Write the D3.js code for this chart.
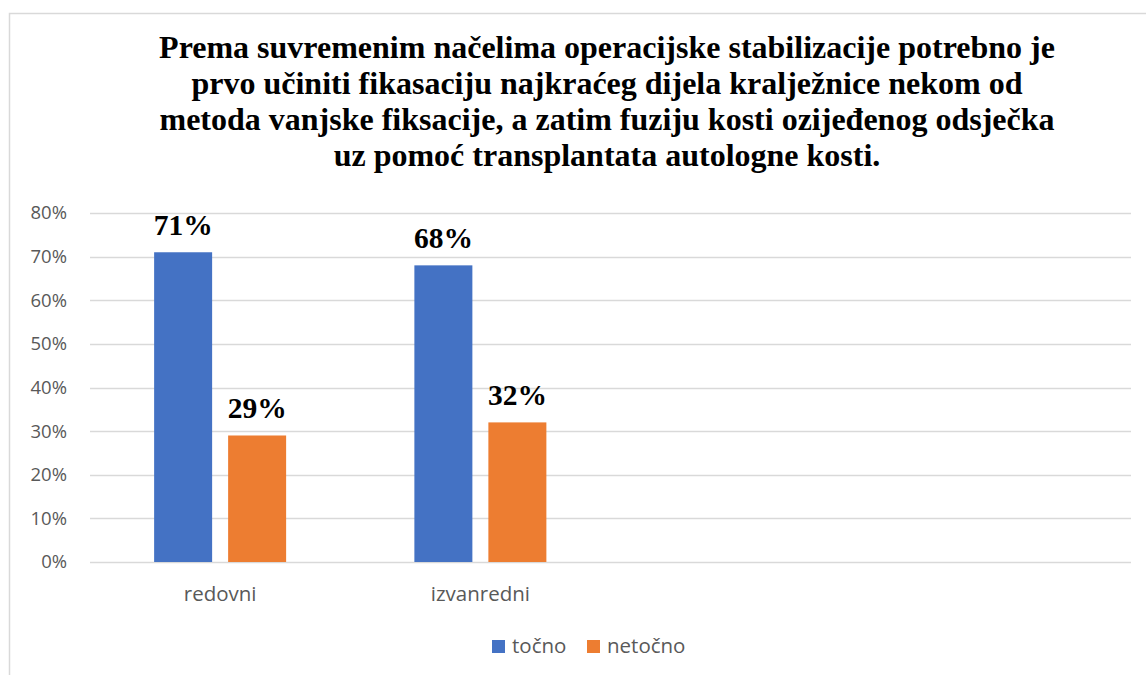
<!DOCTYPE html>
<html><head><meta charset="utf-8">
<script src="https://cdn.jsdelivr.net/npm/d3@7"></script>
<style>body{margin:0;background:#fff}</style>
</head><body>
<svg id="c" width="1146" height="675"></svg>
<script>
const titleLines = [
  "Prema suvremenim načelima operacijske stabilizacije potrebno je",
  "prvo učiniti fikasaciju najkraćeg dijela kralježnice nekom od",
  "metoda vanjske fiksacije, a zatim fuziju kosti ozijeđenog odsječka",
  "uz pomoć transplantata autologne kosti."
];
const categories = ["redovni", "izvanredni", "", ""];
const seriesNames = ["točno", "netočno"];
const tocno = [0.71, 0.68, null, null];
const netocno = [0.29, 0.32, null, null];
const yTicks = [0, 0.1, 0.2, 0.3, 0.4, 0.5, 0.6, 0.7, 0.8];
const colors = ["#4472C4", "#ED7D31"];

const svg = d3.select("#c");
const plotLeft = 90, plotRight = 1131, plotTop = 213, plotBottom = 562;

// frame
svg.append("rect").attr("x", 9.5).attr("y", 13.5).attr("width", 1160).attr("height", 700)
  .attr("fill", "none").attr("stroke", "#D9D9D9").attr("stroke-width", 1.5);

// title
const t = svg.append("text").attr("text-anchor", "middle")
  .attr("font-family", "Liberation Serif").attr("font-weight", "bold")
  .attr("font-size", 32).attr("fill", "#000");
titleLines.forEach((l, i) => t.append("tspan").attr("x", 607).attr("y", 58 + i * 36).text(l));

const x = d3.scaleBand().domain(d3.range(categories.length)).range([plotLeft, plotRight]);
const y = d3.scaleLinear().domain([0, 0.8]).range([plotBottom, plotTop]);
const barW = 58, gap = 16;

// grid
svg.append("g").selectAll("line").data(yTicks).join("line")
  .attr("x1", plotLeft).attr("x2", plotRight)
  .attr("y1", d => Math.round(y(d)) + 0.5).attr("y2", d => Math.round(y(d)) + 0.5)
  .attr("stroke", "#D9D9D9").attr("stroke-width", 1.5);

// y axis
const yAxis = d3.axisLeft(y).tickValues(yTicks).tickFormat(d3.format(".0%")).tickSize(0).tickPadding(0);
const yg = svg.append("g").attr("transform", `translate(${67},0)`).call(yAxis);
yg.select(".domain").remove();
yg.selectAll("text").attr("font-family", "Open Sans").attr("font-size", 18.5).attr("fill", "#595959");

// x axis
const xAxis = d3.axisBottom(x).tickFormat(i => categories[i]).tickSize(0).tickPadding(0);
const xg = svg.append("g").attr("transform", `translate(0,${586})`).call(xAxis);
xg.select(".domain").remove();
xg.selectAll("text").attr("font-family", "Open Sans").attr("font-size", 20.5).attr("fill", "#595959");

const series = [tocno, netocno];
series.forEach((vals, si) => {
  const data = vals.map((v, i) => ({ v, i })).filter(d => d.v != null);
  const xOff = i => x(i) + x.bandwidth() / 2 - barW - gap / 2 + si * (barW + gap);
  svg.append("g").selectAll("rect").data(data).join("rect")
    .attr("x", d => xOff(d.i)).attr("width", barW)
    .attr("y", d => y(d.v)).attr("height", d => y(0) - y(d.v))
    .attr("fill", colors[si]);
  svg.append("g").selectAll("text").data(data).join("text")
    .attr("x", d => xOff(d.i) + barW / 2).attr("y", d => y(d.v) - 17)
    .attr("text-anchor", "middle").attr("font-family", "Liberation Serif")
    .attr("font-weight", "bold").attr("font-size", 29.5).attr("fill", "#000")
    .text(d => d3.format(".0%")(d.v));
});

// legend
const legendX = [492, 587];
seriesNames.forEach((n, i) => {
  svg.append("rect").attr("x", legendX[i]).attr("y", 640).attr("width", 13).attr("height", 13).attr("fill", colors[i]);
  svg.append("text").attr("x", legendX[i] + 20).attr("y", 653)
    .attr("font-family", "Open Sans").attr("font-size", 20.5).attr("fill", "#595959").text(n);
});
</script>
</body></html>
